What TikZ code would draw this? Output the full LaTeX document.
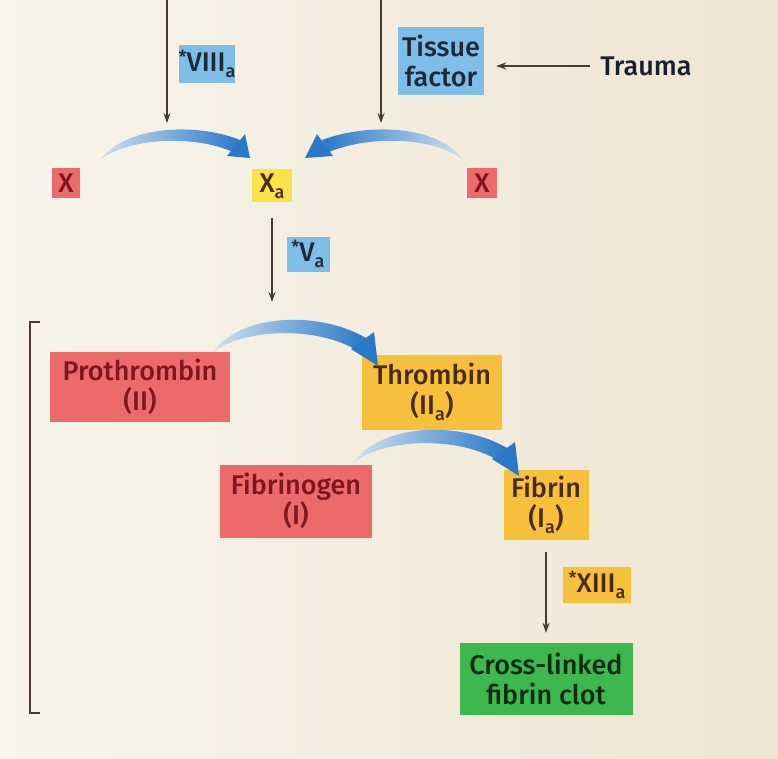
\documentclass[tikz,border=0pt]{standalone}
\usepackage{fontspec}
\setmainfont{Fira Sans}[UprightFont={* Medium}]
\usetikzlibrary{arrows.meta}
\newcommand\sbs[1]{\raisebox{-0.22em}{\fontsize{18}{18}\selectfont #1}}
\newcommand\astk{\raisebox{0.32em}{\fontsize{18}{18}\selectfont *}}
\definecolor{bgL}{HTML}{F8F5EC}
\definecolor{bgR}{HTML}{EFE4D2}
\definecolor{redbox}{HTML}{EC6A6A}
\definecolor{redtxt}{HTML}{7E1620}
\definecolor{yelbox}{HTML}{F9E24A}
\definecolor{orbox}{HTML}{F6C03C}
\definecolor{yeltxt}{HTML}{4A2A10}
\definecolor{bluebox}{HTML}{7DBDE6}
\definecolor{bluetxt}{HTML}{1E2838}
\definecolor{grnbox}{HTML}{3DB84E}
\definecolor{grntxt}{HTML}{0C2A12}
\definecolor{linec}{HTML}{4A3A30}
\definecolor{arrLight}{HTML}{CFE2F0}
\definecolor{arrDark}{HTML}{2A78C6}
\begin{document}
\begin{tikzpicture}[x=1pt,y=-1pt,
  box/.style={inner sep=0pt, align=center, font=\fontsize{27}{30}\selectfont},
  redb/.style={box, fill=redbox, text=redtxt},
  yelb/.style={box, fill=yelbox, text=yeltxt},
  orb/.style={box, fill=orbox, text=yeltxt},
  blub/.style={box, fill=bluebox, text=bluetxt},
  grnb/.style={box, fill=grnbox, text=grntxt},
  thin arrow/.style={draw=linec, line width=1.3pt, -{Stealth[length=10pt,width=7pt]}}
]
\useasboundingbox (0,0) rectangle (778,759);
\shade[left color=bgL, right color=bgR] (0,0) rectangle (778,759);

% nodes
\node[blub, minimum width=54pt, minimum height=38pt] (viii) at (207,64) {\astk VIII\sbs{a}};
\node[blub, minimum width=86pt, minimum height=68pt] (tf) at (441,61) {Tissue\\factor};
\node[box, text=bluetxt!80!black] (trauma) at (646,66) {Trauma};
\node[redb, minimum width=28pt, minimum height=30pt] (xl) at (66,183) {X};
\node[yelb, minimum width=40pt, minimum height=33pt] (xa) at (272,186) {X\sbs{a}};
\node[redb, minimum width=30pt, minimum height=30pt] (xr) at (482,183) {X};
\node[blub, minimum width=43pt, minimum height=35pt] (va) at (308,254) {\astk V\sbs{a}};
\node[redb, minimum width=180pt, minimum height=70pt] (pro) at (140,387) {Prothrombin\\(II)};
\node[orb, minimum width=140pt, minimum height=75pt] (thr) at (432,392) {Thrombin\\(II\sbs{a})};
\node[redb, minimum width=152pt, minimum height=73pt] (fbg) at (296,501) {Fibrinogen\\(I)};
\node[orb, minimum width=85pt, minimum height=70pt] (fib) at (546,505) {Fibrin\\(I\sbs{a})};
\node[orb, minimum width=68pt, minimum height=36pt] (xiii) at (597,585) {\astk XIII\sbs{a}};
\node[grnb, minimum width=173pt, minimum height=72pt] (clot) at (546,679) {Cross-linked\\fibrin clot};

% free ends of the thin arrows
\coordinate (t1) at (167,0);
\coordinate (e1) at (167,123);
\coordinate (t2) at (381,0);
\coordinate (e2) at (381,123);
\coordinate (s3) at (272,218);
\coordinate (e3) at (272,302);

\draw[thin arrow] (t1) -- (e1);
\draw[thin arrow] (t2) -- (e2);
\draw[thin arrow] (s3) -- (e3);
\draw[thin arrow, shorten <=10pt, shorten >=12pt] (trauma.west) -- (tf.east |- trauma.west);
\draw[thin arrow, shorten <=12pt, shorten >=10pt] (fib.south) -- (clot.north);

% bracket
\coordinate (b1) at (30,322);
\coordinate (b2) at (30,713);
\draw[linec, line width=1.3pt] ([xshift=10pt]b1) -- (b1) -- (b2) -- ([xshift=10pt]b2);

% curved blue arrows: X -> Xa (left)
\shade[left color=arrLight, right color=arrDark]
  (100,160) .. controls (125,126) and (195,122) .. (240,140) -- (233,152)
  .. controls (195,135) and (130,137) .. (100,160) -- cycle;
\fill[arrDark] (245,134) -- (250,158) -- (227,156) -- cycle;

% X -> Xa (right)
\shade[left color=arrDark, right color=arrLight]
  (463,160) .. controls (440,126) and (370,122) .. (322,140) -- (329,152)
  .. controls (370,135) and (435,137) .. (463,160) -- cycle;
\fill[arrDark] (317,134) -- (305,158) -- (333,156) -- cycle;

% Prothrombin -> Thrombin
\shade[left color=arrLight, right color=arrDark]
  (213,352) .. controls (240,314) and (318,310) .. (366,338) -- (358,351)
  .. controls (318,326) and (245,328) .. (213,352) -- cycle;
\fill[arrDark] (374,332) -- (378,366) -- (351,349) -- cycle;

% Fibrinogen -> Fibrin
\begin{scope}[shift={(141,110)}]
\shade[left color=arrLight, right color=arrDark]
  (213,352) .. controls (240,314) and (318,310) .. (366,338) -- (358,351)
  .. controls (318,326) and (245,328) .. (213,352) -- cycle;
\fill[arrDark] (374,332) -- (378,366) -- (351,349) -- cycle;
\end{scope}
\end{tikzpicture}
\end{document}
